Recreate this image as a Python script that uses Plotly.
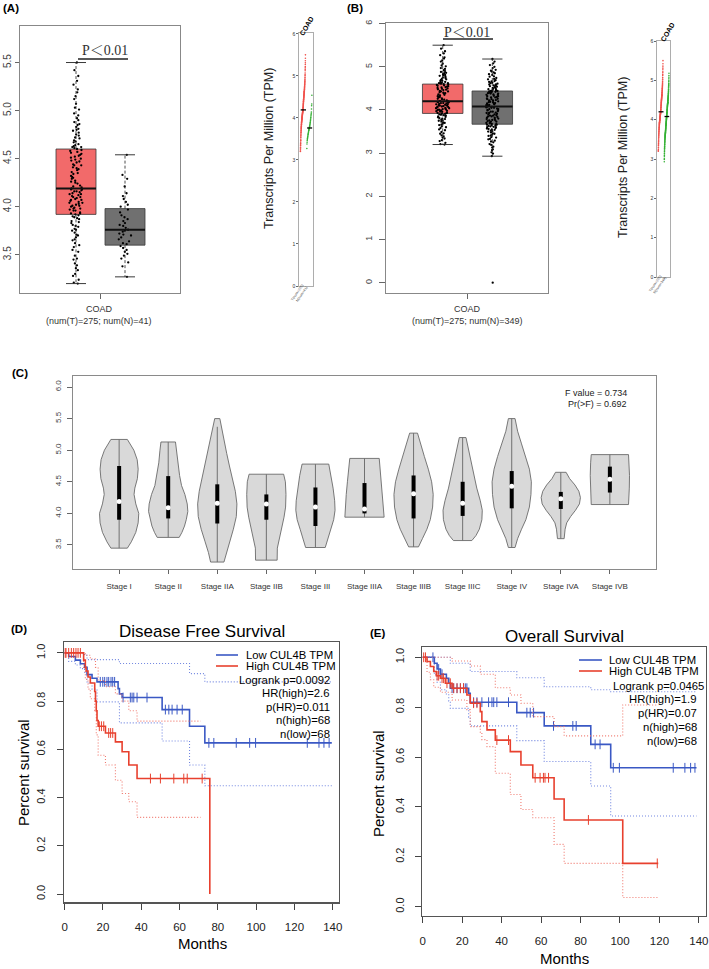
import plotly.graph_objects as go

W, H = 709, 969
def fx(p): return p / W
def fy(p): return 1 - p / H

FONT = "Liberation Sans, Arial, sans-serif"
SERIF = "Liberation Serif, Noto Serif CJK SC, Noto Sans CJK SC, serif"

# ---------------- data : panels A/B (log2(TPM+1)) ----------------
TUMOR_TPM = [3.20, 3.21, 3.24, 3.28, 3.30, 3.34, 3.36, 3.39, 3.41, 3.45, 3.46, 3.49, 3.53, 3.55, 3.58,
             3.60, 3.62, 3.65, 3.66, 3.68, 3.70, 3.71, 3.73, 3.75, 3.76, 3.77, 3.79, 3.80, 3.81, 3.83,
             3.84, 3.85, 3.87, 3.88, 3.89, 3.90, 3.91,
             3.92, 3.93, 3.93, 3.94, 3.96, 3.96, 3.97, 3.98, 3.98, 3.99, 4.00, 4.01, 4.01, 4.02, 4.03,
             4.04, 4.04, 4.05, 4.06, 4.07, 4.07, 4.08, 4.09, 4.10, 4.10, 4.11, 4.12, 4.13, 4.13, 4.14,
             4.15, 4.16, 4.16, 4.17, 4.18, 4.18, 4.19,
             4.20, 4.21, 4.22, 4.24, 4.25, 4.26, 4.27, 4.29, 4.30, 4.31, 4.32, 4.34, 4.35, 4.36, 4.38,
             4.39, 4.40, 4.41, 4.43, 4.43, 4.44, 4.46, 4.47, 4.48, 4.49, 4.50, 4.51, 4.52, 4.53, 4.54,
             4.55, 4.56, 4.57, 4.58, 4.59, 4.60,
             4.61, 4.62, 4.62, 4.63, 4.64, 4.65, 4.67, 4.68, 4.69, 4.71, 4.72, 4.74, 4.75, 4.77, 4.79,
             4.80, 4.81, 4.83, 4.85, 4.86, 4.88, 4.90, 4.92, 4.95, 4.97, 5.01, 5.03, 5.07, 5.12, 5.15,
             5.19, 5.22, 5.27, 5.31, 5.36, 5.42, 5.50]
NORMAL_TCGA_TPM = [3.27, 3.38, 3.42, 3.46, 3.49, 3.51, 3.53, 3.55, 3.57, 3.59, 3.61, 3.62, 3.64, 3.66,
                   3.68, 3.70, 3.71, 3.72, 3.74, 3.75, 3.76, 3.78, 3.80, 3.81, 3.83, 3.85, 3.87, 3.89,
                   3.91, 3.94, 3.97, 4.00, 4.02, 4.05, 4.08, 4.11, 4.14, 4.21, 4.29, 4.33, 4.54]
NORMAL_ALL_TPM = [0.0,
                  2.93, 2.99, 3.02, 3.07, 3.09, 3.13, 3.15, 3.19, 3.21, 3.25, 3.27, 3.29, 3.32, 3.33,
                  3.36, 3.37, 3.40, 3.41, 3.43, 3.45, 3.46, 3.48, 3.50, 3.51, 3.52, 3.54, 3.55, 3.56,
                  3.57, 3.58, 3.60, 3.60, 3.61, 3.62, 3.63, 3.64, 3.65, 3.66, 3.66, 3.67,
                  3.68, 3.69, 3.70, 3.71, 3.73, 3.73, 3.74, 3.76, 3.76, 3.77, 3.79, 3.79, 3.80, 3.82,
                  3.82, 3.84, 3.85, 3.85, 3.87, 3.87, 3.88, 3.90, 3.90, 3.91, 3.93, 3.93, 3.94, 3.96,
                  3.96, 3.97, 3.99, 3.99, 4.00, 4.02, 4.02, 4.03, 4.05, 4.05, 4.06, 4.07,
                  4.08, 4.09, 4.11, 4.11, 4.12, 4.13, 4.15, 4.15, 4.16, 4.18, 4.18, 4.19, 4.20, 4.22,
                  4.22, 4.23, 4.25, 4.25, 4.26, 4.27, 4.29, 4.29, 4.30, 4.32, 4.32, 4.33, 4.35, 4.35,
                  4.36, 4.38, 4.38, 4.39, 4.40, 4.41, 4.42, 4.42, 4.43, 4.43, 4.44, 4.44,
                  4.45, 4.46, 4.48, 4.48, 4.49, 4.51, 4.51, 4.53, 4.54, 4.55, 4.56, 4.57, 4.59, 4.59,
                  4.61, 4.62, 4.63, 4.65, 4.66, 4.67, 4.69, 4.71, 4.72, 4.74, 4.77, 4.78, 4.81, 4.83,
                  4.85, 4.87, 4.89, 4.91, 4.93, 4.97, 5.00, 5.04, 5.08, 5.12, 5.18]

BOX_A_Q1 = [3.92, 3.60]
BOX_A_MED = [4.19, 3.76]
BOX_A_Q3 = [4.60, 3.98]
BOX_A_LO = [3.20, 3.27]
BOX_A_HI = [5.50, 4.54]

BOX_B_Q1 = [3.92, 3.67]
BOX_B_MED = [4.20, 4.08]
BOX_B_Q3 = [4.60, 4.44]
BOX_B_LO = [3.20, 2.93]
BOX_B_HI = [5.50, 5.18]

# ---------------- data : panel C (stage violins) ----------------
STAGE_NAMES = ["Stage I", "Stage II", "Stage IIA", "Stage IIB", "Stage III", "Stage IIIA",
               "Stage IIIB", "Stage IIIC", "Stage IV", "Stage IVA", "Stage IVB"]
STAGE_Q1 = [3.90, 3.92, 3.84, 3.90, 3.80, 4.00, 3.92, 3.96, 4.08, 4.07, 4.33]
STAGE_MED = [4.19, 4.09, 4.16, 4.15, 4.10, 4.07, 4.31, 4.16, 4.43, 4.23, 4.54]
STAGE_Q3 = [4.75, 4.59, 4.46, 4.30, 4.41, 4.48, 4.60, 4.50, 4.67, 4.34, 4.74]
STAGE_LO = [3.45, 3.62, 3.23, 3.26, 3.46, 3.94, 3.47, 3.57, 3.46, 3.60, 4.14]
STAGE_HI = [5.17, 5.13, 5.37, 4.62, 4.78, 4.87, 5.27, 5.20, 5.50, 4.65, 4.93]
STAGE_DENS_Y = [
    [5.17, 5.00, 4.85, 4.70, 4.55, 4.40, 4.30, 4.15, 4.00, 3.85, 3.70, 3.55, 3.45],
    [5.13, 5.00, 4.80, 4.60, 4.44, 4.30, 4.15, 4.03, 3.90, 3.80, 3.70, 3.62],
    [5.50, 5.35, 5.15, 4.95, 4.75, 4.55, 4.35, 4.15, 3.95, 3.75, 3.55, 3.38, 3.23],
    [4.62, 4.50, 4.30, 4.10, 3.94, 3.78, 3.62, 3.45, 3.26],
    [4.78, 4.60, 4.40, 4.20, 4.05, 3.90, 3.75, 3.60, 3.46],
    [4.87, 4.70, 4.50, 4.30, 4.10, 3.94],
    [5.27, 5.10, 4.90, 4.70, 4.50, 4.30, 4.10, 3.90, 3.75, 3.60, 3.47],
    [5.20, 5.00, 4.80, 4.60, 4.40, 4.20, 4.05, 3.90, 3.75, 3.65, 3.57],
    [5.50, 5.30, 5.10, 4.90, 4.70, 4.50, 4.30, 4.10, 3.90, 3.75, 3.60, 3.46],
    [4.65, 4.55, 4.45, 4.35, 4.25, 4.15, 4.05, 3.95, 3.85, 3.75, 3.60],
    [4.93, 4.80, 4.60, 4.40, 4.25, 4.14],
]
STAGE_DENS_W = [
    [0.42, 0.75, 0.92, 0.97, 0.93, 0.80, 0.76, 0.85, 1.00, 0.97, 0.85, 0.62, 0.42],
    [0.37, 0.42, 0.48, 0.58, 0.68, 0.85, 0.97, 1.00, 0.92, 0.83, 0.70, 0.56],
    [0.13, 0.22, 0.35, 0.48, 0.62, 0.78, 0.92, 1.00, 0.97, 0.82, 0.62, 0.45, 0.34],
    [0.88, 0.97, 1.00, 0.98, 0.90, 0.80, 0.68, 0.56, 0.55],
    [0.68, 0.80, 0.90, 0.98, 1.00, 0.93, 0.78, 0.62, 0.50],
    [0.75, 0.80, 0.87, 0.93, 0.98, 1.00],
    [0.20, 0.35, 0.55, 0.75, 0.92, 1.00, 0.97, 0.85, 0.68, 0.45, 0.25],
    [0.17, 0.30, 0.45, 0.58, 0.72, 0.90, 1.00, 0.98, 0.85, 0.68, 0.47],
    [0.17, 0.30, 0.50, 0.72, 0.90, 1.00, 0.98, 0.90, 0.72, 0.50, 0.30, 0.17],
    [0.27, 0.45, 0.72, 0.92, 1.00, 0.95, 0.75, 0.50, 0.30, 0.22, 0.17],
    [0.95, 0.98, 1.00, 0.99, 0.97, 0.95],
]

# ---------------- data : panel D (disease free survival) ----------------
DFS_LOW_T = [0, 2.1, 5.6, 8.2, 10.4, 11.7, 14.3, 16.9, 27.9, 28.6, 30.0, 50.9, 65.2, 73.2, 139.5]
DFS_LOW_S = [1.0, 0.985, 0.970, 0.955, 0.940, 0.910, 0.895, 0.880, 0.852, 0.830, 0.815, 0.765, 0.696, 0.627, 0.627]
DFS_LOW_UP_T = [0, 10.4, 11.7, 28.6, 65.2, 73.2, 139.5]
DFS_LOW_UP_S = [1.0, 0.990, 0.972, 0.956, 0.914, 0.880, 0.880]
DFS_LOW_LO_T = [0, 2.1, 5.6, 8.2, 10.4, 11.7, 14.3, 16.9, 28.6, 50.9, 65.2, 73.2, 139.5]
DFS_LOW_LO_S = [1.0, 0.965, 0.950, 0.935, 0.920, 0.875, 0.850, 0.797, 0.710, 0.635, 0.535, 0.449, 0.449]
DFS_LOW_CENS = [18.6, 19.9, 20.9, 22.1, 23.0, 24.2, 25.1, 26.1, 30.5, 34.3, 35.2, 36.1, 37.8, 43.0,
                52.6, 54.4, 56.1, 58.7, 61.4, 75.3, 77.9, 89.6, 96.6, 99.7, 126.7, 132.8, 135.4, 138.1]

DFS_HIGH_T = [0, 9.9, 10.8, 11.2, 12.2, 13.4, 15.7, 16.1, 16.5, 16.9, 17.5, 21.3, 26.5, 30.0, 33.5, 37.8, 75.8]
DFS_HIGH_S = [1.0, 0.970, 0.940, 0.925, 0.900, 0.875, 0.840, 0.800, 0.760, 0.720, 0.696, 0.668, 0.631,
              0.590, 0.535, 0.479, 0.0]
DFS_HIGH_UP_T = [0, 10.8, 13.4, 16.1, 17.5, 21.3, 26.5, 30.0, 33.5, 37.8, 71.0]
DFS_HIGH_UP_S = [1.0, 0.990, 0.975, 0.940, 0.885, 0.860, 0.830, 0.800, 0.760, 0.717, 0.717]
DFS_HIGH_LO_T = [0, 9.9, 10.8, 12.2, 13.4, 15.7, 16.5, 17.5, 21.3, 26.5, 30.0, 33.5, 37.8, 71.0]
DFS_HIGH_LO_S = [1.0, 0.935, 0.890, 0.850, 0.810, 0.760, 0.660, 0.576, 0.535, 0.472, 0.417, 0.383, 0.318, 0.318]
DFS_HIGH_CENS = [0.3, 0.7, 2.1, 3.5, 4.7, 5.9, 7.0, 8.2, 18.1, 19.2, 20.4, 23.0, 24.0, 25.1,
                 44.8, 50.0, 57.0, 62.2, 64.0, 71.8]
DFS_STATS = ["Logrank p=0.0092", "HR(high)=2.6", "p(HR)=0.011", "n(high)=68", "n(low)=68"]

# ---------------- data : panel E (overall survival) ----------------
OS_LOW_T = [0, 5.9, 7.3, 9.0, 12.0, 13.2, 14.0, 23.3, 24.1, 47.7, 61.6, 85.2, 95.3, 138.8]
OS_LOW_S = [1.0, 0.976, 0.953, 0.932, 0.916, 0.896, 0.876, 0.856, 0.820, 0.778, 0.725, 0.651, 0.557, 0.557]
OS_LOW_UP_T = [0, 14.0, 24.1, 47.7, 61.6, 85.2, 95.3, 138.8]
OS_LOW_UP_S = [1.0, 0.976, 0.943, 0.918, 0.882, 0.870, 0.862, 0.862]
OS_LOW_LO_T = [0, 5.9, 7.3, 9.0, 12.0, 13.2, 14.0, 23.3, 24.1, 47.7, 61.6, 85.2, 95.3, 138.8]
OS_LOW_LO_S = [1.0, 0.930, 0.900, 0.870, 0.850, 0.825, 0.795, 0.760, 0.725, 0.666, 0.582, 0.484, 0.364, 0.364]
OS_LOW_CENS = [5.2, 8.1, 9.0, 9.8, 14.9, 15.7, 17.4, 19.1, 20.7, 21.6, 22.4, 25.8, 27.5, 30.0, 33.4,
               35.1, 36.0, 37.6, 43.5, 52.8, 54.5, 56.2, 66.3, 76.1, 77.8, 87.4, 89.9, 96.6, 99.7,
               127.0, 132.9, 135.8, 138.0]

OS_HIGH_T = [0, 2.2, 3.9, 5.6, 6.9, 9.0, 11.5, 14.9, 22.4, 24.1, 29.2, 30.0, 32.6, 36.8, 44.4, 49.8,
             55.8, 66.6, 71.7, 101.4, 119.4]
OS_HIGH_S = [1.0, 0.983, 0.963, 0.943, 0.926, 0.916, 0.896, 0.876, 0.849, 0.816, 0.782, 0.742, 0.709,
             0.668, 0.622, 0.568, 0.517, 0.432, 0.348, 0.174, 0.174]
OS_HIGH_UP_T = [0, 14.9, 24.1, 29.2, 36.8, 44.4, 49.8, 55.8, 66.6, 71.7, 101.4, 119.4]
OS_HIGH_UP_S = [1.0, 0.985, 0.965, 0.932, 0.878, 0.849, 0.816, 0.762, 0.722, 0.685, 0.809, 0.809]
OS_HIGH_LO_T = [0, 2.2, 3.9, 5.6, 9.0, 14.9, 22.4, 24.1, 29.2, 30.0, 32.6, 36.8, 44.4, 49.8, 55.8,
                66.6, 71.7, 101.4, 119.4]
OS_HIGH_LO_S = [1.0, 0.940, 0.910, 0.880, 0.860, 0.829, 0.790, 0.722, 0.700, 0.670, 0.642, 0.535,
                0.450, 0.390, 0.357, 0.250, 0.174, 0.037, 0.037]
OS_HIGH_CENS = [0.5, 1.4, 7.3, 8.1, 9.8, 10.6, 12.3, 14.0, 15.7, 17.4, 19.1, 20.7, 25.8, 27.5, 37.6,
                43.5, 57.0, 59.5, 61.2, 62.0, 63.8, 84.0, 118.9]
OS_STATS = ["Logrank p=0.0465", "HR(high)=1.9", "p(HR)=0.07", "n(high)=68", "n(low)=68"]

# ---------------- styles ----------------
TUMOR_FILL = "#f26a6a"
NORMAL_FILL = "#707070"
BOX_POS = [1.4, 2.625]
BLUE = "#3a58c4"
RED = "#e8402e"
BLUE_CI = "#7186e0"
RED_CI = "#f07a70"

fig = go.Figure()


def add_boxpanel(xa, ya, q1, med, q3, lo, hi, groups_values):
    fig.add_trace(go.Bar(x=BOX_POS, y=[b - a for a, b in zip(q1, q3)], base=q1, width=[1.0, 1.0],
                         marker=dict(color=[TUMOR_FILL, NORMAL_FILL], line=dict(color="#3a3a3a", width=0.8)),
                         xaxis=xa, yaxis=ya, showlegend=False, hoverinfo="skip"))
    wx, wy, cx, cy, mx, my = [], [], [], [], [], []
    for p, a, m, b, l, h in zip(BOX_POS, q1, med, q3, lo, hi):
        wx += [p, p, None, p, p, None]
        wy += [b, h, None, a, l, None]
        cx += [p - 0.25, p + 0.25, None, p - 0.25, p + 0.25, None]
        cy += [h, h, None, l, l, None]
        mx += [p - 0.5, p + 0.5, None]
        my += [m, m, None]
    fig.add_trace(go.Scatter(x=wx, y=wy, mode="lines", line=dict(color="#222", width=0.8, dash="3px,2px"),
                             xaxis=xa, yaxis=ya, showlegend=False, hoverinfo="skip"))
    fig.add_trace(go.Scatter(x=cx, y=cy, mode="lines", line=dict(color="#222", width=0.9),
                             xaxis=xa, yaxis=ya, showlegend=False, hoverinfo="skip"))
    fig.add_trace(go.Scatter(x=mx, y=my, mode="lines", line=dict(color="#111", width=2),
                             xaxis=xa, yaxis=ya, showlegend=False, hoverinfo="skip"))
    for p, vals in zip(BOX_POS, groups_values):
        fig.add_trace(go.Box(y=vals, x0=p, width=1.0, boxpoints="all", jitter=0.34, pointpos=0,
                             fillcolor="rgba(0,0,0,0)", line=dict(width=0, color="rgba(0,0,0,0)"),
                             marker=dict(size=2.3, color="#000"), xaxis=xa, yaxis=ya,
                             showlegend=False, hoverinfo="skip"))


add_boxpanel("x", "y", BOX_A_Q1, BOX_A_MED, BOX_A_Q3, BOX_A_LO, BOX_A_HI, [TUMOR_TPM, NORMAL_TCGA_TPM])
add_boxpanel("x3", "y3", BOX_B_Q1, BOX_B_MED, BOX_B_Q3, BOX_B_LO, BOX_B_HI, [TUMOR_TPM, NORMAL_ALL_TPM])


def add_sidepanel(xa, ya, tumor, normal, med_t, med_n):
    for vals, x0, col in [(tumor, 0.10, "#f0504a"), (normal, 0.56, "#33b033")]:
        s = sorted(vals)
        s = [v for v in s if v > 0]
        n = len(s)
        xs = [x0 + 0.36 * i / (n - 1) for i in range(n)]
        fig.add_trace(go.Scatter(x=xs, y=s, mode="markers", marker=dict(size=1.6, color=col),
                                 xaxis=xa, yaxis=ya, showlegend=False, hoverinfo="skip"))
    fig.add_trace(go.Scatter(x=[0.12, 0.50, None, 0.58, 0.94], y=[med_t, med_t, None, med_n, med_n],
                             mode="lines", line=dict(color="#000", width=1.3),
                             xaxis=xa, yaxis=ya, showlegend=False, hoverinfo="skip"))


add_sidepanel("x2", "y2", TUMOR_TPM, NORMAL_TCGA_TPM, BOX_A_MED[0], BOX_A_MED[1])
add_sidepanel("x4", "y4", TUMOR_TPM, NORMAL_ALL_TPM, BOX_B_MED[0], BOX_B_MED[1])

# ---- panel C violins ----
for i, (ys, ws) in enumerate(zip(STAGE_DENS_Y, STAGE_DENS_W)):
    pos = i + 1
    xs = [pos + 0.4 * w for w in ws] + [pos - 0.4 * w for w in reversed(ws)] + [pos + 0.4 * ws[0]]
    yy = list(ys) + list(reversed(ys)) + [ys[0]]
    fig.add_trace(go.Scatter(x=xs, y=yy, mode="lines", fill="toself", fillcolor="#d9d9d9",
                             line=dict(color="#6a6a6a", width=0.9), xaxis="x5", yaxis="y5",
                             showlegend=False, hoverinfo="skip"))
wx, wy, bx, by = [], [], [], []
for i in range(len(STAGE_NAMES)):
    pos = i + 1
    wx += [pos, pos, None]
    wy += [STAGE_LO[i], STAGE_HI[i], None]
    bx += [pos, pos, None]
    by += [STAGE_Q1[i], STAGE_Q3[i], None]
fig.add_trace(go.Scatter(x=wx, y=wy, mode="lines", line=dict(color="#707070", width=1),
                         xaxis="x5", yaxis="y5", showlegend=False, hoverinfo="skip"))
fig.add_trace(go.Scatter(x=bx, y=by, mode="lines", line=dict(color="#000", width=4),
                         xaxis="x5", yaxis="y5", showlegend=False, hoverinfo="skip"))
fig.add_trace(go.Scatter(x=list(range(1, len(STAGE_NAMES) + 1)), y=STAGE_MED, mode="markers",
                         marker=dict(size=5, color="#fff"), xaxis="x5", yaxis="y5",
                         showlegend=False, hoverinfo="skip"))


# ---- panels D / E ----
def step_at(T, S, t):
    v = S[0]
    for ti, si in zip(T, S):
        if ti <= t:
            v = si
        else:
            break
    return v


def add_km(xa, ya, T, S, UT, US, LT, LS, cens, col, cicol):
    for tt, ss in [(UT, US), (LT, LS)]:
        fig.add_trace(go.Scatter(x=tt, y=ss, mode="lines",
                                 line=dict(color=cicol, width=1.1, dash="1px,2px", shape="hv"),
                                 xaxis=xa, yaxis=ya, showlegend=False, hoverinfo="skip"))
    fig.add_trace(go.Scatter(x=T, y=S, mode="lines", line=dict(color=col, width=1.6, shape="hv"),
                             xaxis=xa, yaxis=ya, showlegend=False, hoverinfo="skip"))
    fig.add_trace(go.Scatter(x=cens, y=[step_at(T, S, c) for c in cens], mode="markers",
                             marker=dict(symbol="line-ns", size=7, line=dict(width=1, color=col)),
                             xaxis=xa, yaxis=ya, showlegend=False, hoverinfo="skip"))


add_km("x6", "y6", DFS_LOW_T, DFS_LOW_S, DFS_LOW_UP_T, DFS_LOW_UP_S, DFS_LOW_LO_T, DFS_LOW_LO_S,
       DFS_LOW_CENS, BLUE, BLUE_CI)
add_km("x6", "y6", DFS_HIGH_T, DFS_HIGH_S, DFS_HIGH_UP_T, DFS_HIGH_UP_S, DFS_HIGH_LO_T, DFS_HIGH_LO_S,
       DFS_HIGH_CENS, RED, RED_CI)
add_km("x7", "y7", OS_LOW_T, OS_LOW_S, OS_LOW_UP_T, OS_LOW_UP_S, OS_LOW_LO_T, OS_LOW_LO_S,
       OS_LOW_CENS, BLUE, BLUE_CI)
add_km("x7", "y7", OS_HIGH_T, OS_HIGH_S, OS_HIGH_UP_T, OS_HIGH_UP_S, OS_HIGH_LO_T, OS_HIGH_LO_S,
       OS_HIGH_CENS, RED, RED_CI)


# ---------------- axes ----------------
def axis(dom, rng, anchor, linecolor="#888", lw=1, **kw):
    d = dict(domain=dom, range=rng, anchor=anchor, showline=True, mirror=True, linecolor=linecolor,
             linewidth=lw, showgrid=False, zeroline=False, automargin=False, fixedrange=True,
             ticks="", showticklabels=False)
    d.update(kw)
    return d


def yticks(vals, txt, size, color, ticklen, standoff, tickcolor="#666"):
    return dict(tickmode="array", tickvals=vals, ticktext=txt, ticks="outside", ticklen=ticklen,
                tickcolor=tickcolor, tickwidth=1, showticklabels=True, tickangle=-90,
                tickfont=dict(size=size, color=color, family=FONT), ticklabelstandoff=standoff)


layout_axes = dict(
    xaxis=axis([fx(20), fx(180)], [0, 4], "y", tickmode="array", tickvals=[2], ticks="outside",
               ticklen=5, tickcolor="#666"),
    yaxis=axis([fy(293), fy(26)], [3.102, 5.88], "x",
               **yticks([3.5, 4.0, 4.5, 5.0, 5.5], ["3.5", "4.0", "4.5", "5.0", "5.5"], 10, "#444", 4, 0)),
    xaxis2=axis([fx(299), fx(313)], [0, 1], "y2", linecolor="#999", lw=0.8),
    yaxis2=axis([fy(286), fy(33)], [0, 6.02], "x2", linecolor="#999", lw=0.8,
                tickmode="array", tickvals=[0, 1, 2, 3, 4, 5, 6], ticks="outside", ticklen=2,
                tickcolor="#666", showticklabels=True, tickfont=dict(size=5, color="#333", family=FONT)),
    xaxis3=axis([fx(386), fx(548)], [0, 4], "y3", tickmode="array", tickvals=[2], ticks="outside",
                ticklen=5, tickcolor="#666"),
    yaxis3=axis([fy(293), fy(23)], [-0.238, 6.014], "x3",
                **yticks([0, 1, 2, 3, 4, 5, 6], ["0", "1", "2", "3", "4", "5", "6"], 9, "#444", 6, 3)),
    xaxis4=axis([fx(657), fx(670)], [0, 1], "y4", linecolor="#999", lw=0.8),
    yaxis4=axis([fy(277), fy(41)], [0, 6.0], "x4", linecolor="#999", lw=0.8,
                tickmode="array", tickvals=[0, 1, 2, 3, 4, 5, 6], ticks="outside", ticklen=2,
                tickcolor="#666", showticklabels=True, tickfont=dict(size=5, color="#333", family=FONT)),
    xaxis5=axis([fx(73), fx(656)], [0.06, 11.94], "y5", linecolor="#8a8a8a",
                tickmode="array", tickvals=list(range(1, 12)), ticktext=STAGE_NAMES, ticks="outside",
                ticklen=4, tickcolor="#666", showticklabels=True,
                tickfont=dict(size=8, color="#333", family=FONT), ticklabelstandoff=5),
    yaxis5=axis([fy(569), fy(376)], [3.12, 6.174], "x5", linecolor="#8a8a8a",
                **yticks([3.5, 4.0, 4.5, 5.0, 5.5, 6.0], ["3.5", "4.0", "4.5", "5.0", "5.5", "6.0"], 8, "#444", 5, 3)),
    xaxis6=axis([fx(63.7), fx(338.7)], [-0.5, 143.1], "y6", linecolor="#555", lw=1.2,
                tickmode="array", tickvals=[0, 20, 40, 60, 80, 100, 120, 140], ticks="outside",
                ticklen=6, tickcolor="#444", showticklabels=True,
                tickfont=dict(size=11.5, color="#222", family=FONT), ticklabelstandoff=8),
    yaxis6=axis([fy(902.3), fy(642.3)], [-0.034, 1.044], "x6", linecolor="#555", lw=1.2,
                **yticks([0, 0.2, 0.4, 0.6, 0.8, 1.0], ["0.0", "0.2", "0.4", "0.6", "0.8", "1.0"], 11, "#222", 6, 7,
                         tickcolor="#444")),
    xaxis7=axis([fx(422.3), fx(706)], [-0.2, 143.6], "y7", linecolor="#555", lw=1.2,
                tickmode="array", tickvals=[0, 20, 40, 60, 80, 100, 120, 140], ticks="outside",
                ticklen=6, tickcolor="#444", showticklabels=True,
                tickfont=dict(size=11.5, color="#222", family=FONT), ticklabelstandoff=8),
    yaxis7=axis([fy(916), fy(647.3)], [-0.037, 1.040], "x7", linecolor="#555", lw=1.2,
                **yticks([0, 0.2, 0.4, 0.6, 0.8, 1.0], ["0.0", "0.2", "0.4", "0.6", "0.8", "1.0"], 11, "#222", 6, 7,
                         tickcolor="#444")),
)

# ---------------- text ----------------
ANN = []


def ann(text, x, y, size, xanchor="center", angle=0, color="#000", family=FONT):
    ANN.append(dict(text=text, x=fx(x), y=fy(y), xref="paper", yref="paper", showarrow=False,
                    xanchor=xanchor, yanchor="middle", textangle=angle,
                    font=dict(size=size, color=color, family=family)))


ann("<b>(A)</b>", 11, 8, 11.5)
ann("<b>(B)</b>", 355, 8, 11.5)
ann("<b>(C)</b>", 19.5, 373, 11.5)
ann("<b>(D)</b>", 19, 629, 11.5)
ann("<b>(E)</b>", 378, 633, 11.5)

ann("P＜0.01", 105, 50, 14, color="#333", family=SERIF)
ann("P＜0.01", 467, 32, 14, color="#333", family=SERIF)
ann("COAD", 99, 309, 9, color="#333")
ann("(num(T)=275; num(N)=41)", 99, 321, 9, color="#333")
ann("COAD", 467, 309, 9, color="#333")
ann("(num(T)=275; num(N)=349)", 467, 321, 9, color="#333")

ann("Transcripts Per Million (TPM)", 269, 149, 12.5, angle=-90, color="#222")
ann("Transcripts Per Million (TPM)", 623, 158, 12.5, angle=-90, color="#222")
ann("<b>COAD</b>", 306, 26, 7, angle=-60)
ann("<b>COAD</b>", 667, 32, 7, angle=-60)
ann("T(num=275)", 297, 293, 3.5, angle=-55, color="#444")
ann("N(num=41)", 302, 294, 3.5, angle=-55, color="#444")
ann("T(num=275)", 655, 284, 3.5, angle=-55, color="#444")
ann("N(num=349)", 660, 285, 3.5, angle=-55, color="#444")

ann("F value = 0.734", 629, 393, 9, xanchor="right", color="#222")
ann("Pr(>F) = 0.692", 629, 404, 9, xanchor="right", color="#222")

ann("Disease Free Survival", 202, 631, 17)
ann("Overall Survival", 564, 636, 17)
ann("Percent survival", 23, 773, 15, angle=-90)
ann("Percent survival", 378, 783, 15, angle=-90)
ann("Months", 202, 943, 15)
ann("Months", 564, 958, 15)

ann("Low CUL4B TPM", 243.5, 655, 11.3, xanchor="left")
ann("High CUL4B TPM", 243.5, 666, 11.3, xanchor="left")
for txt, yy in zip(DFS_STATS, [680, 693, 707, 720, 734]):
    ann(txt, 331.5, yy, 11.3, xanchor="right")
ann("Low CUL4B TPM", 607.3, 660, 11.3, xanchor="left")
ann("High CUL4B TPM", 607.3, 671, 11.3, xanchor="left")
for txt, yy, xr in zip(OS_STATS, [686, 699, 713, 727, 741], [705.5, 698.5, 698.5, 698.5, 698.5]):
    ann(txt, xr, yy, 11.3, xanchor="right")

SHAPES = []


def hline(x0, x1, y, color, width):
    SHAPES.append(dict(type="line", xref="paper", yref="paper", x0=fx(x0), x1=fx(x1), y0=fy(y), y1=fy(y),
                       line=dict(color=color, width=width)))


hline(78, 128, 59, "#222", 1.6)
hline(443, 493, 39, "#222", 1.6)
hline(216, 238, 655, BLUE, 1.6)
hline(216, 238, 666, RED, 1.6)
hline(579, 602, 660, BLUE, 1.6)
hline(579, 602, 671, RED, 1.6)

fig.update_layout(
    width=W, height=H, autosize=False,
    margin=dict(l=0, r=0, t=0, b=0, pad=0),
    paper_bgcolor="white", plot_bgcolor="white",
    template="none",
    font=dict(family=FONT, color="#000"),
    showlegend=False,
    barmode="overlay", boxmode="overlay",
    annotations=ANN, shapes=SHAPES,
    **layout_axes,
)

fig.write_html("out.html",
               config={"displayModeBar": False, "staticPlot": True},
               post_script="document.body.style.margin='0';document.body.style.overflow='hidden';")
